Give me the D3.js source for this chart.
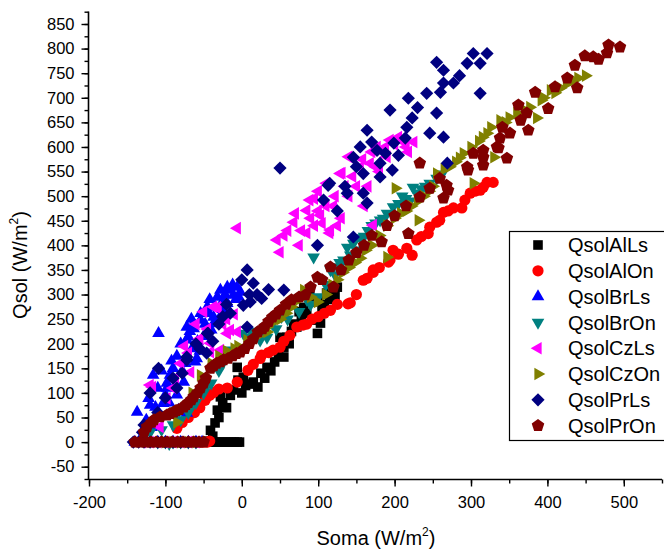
<!DOCTYPE html>
<html><head><meta charset="utf-8">
<script src="https://cdn.jsdelivr.net/npm/d3@7"></script>
<style>body{margin:0;background:#fff}svg{display:block}text{font-family:"Liberation Sans",Arial,sans-serif;fill:#000}</style>
</head><body><svg id="c" width="664" height="550"></svg>
<script>
const seriesNames = ["QsolAlLs","QsolAlOn","QsolBrLs","QsolBrOn","QsolCzLs","QsolCzOn","QsolPrLs","QsolPrOn"];
const seriesColors = ["#000000","#ff0000","#0000ff","#008080","#ff00ff","#808000","#000080","#800000"];
const seriesShapes = ["square","circle","up","down","left","right","diamond","pentagon"];
const xTicks = [-200,-100,0,100,200,300,400,500];
const yTicks = [-50,0,50,100,150,200,250,300,350,400,450,500,550,600,650,700,750,800,850];

const qsolAlLs = [[-46,2],[-42,0],[-38,0],[-34,0],[-30,0],[-26,0],[-22,0],[-18,0],[-14,0],[-10,0],[-6,0],[-3,0],
 [-41,24],[-35,39],[-38,12],[-32,65],[-30,50],[-28,92],[-25,80],[-20,70],[-15,95],[-11,106],[-5,126],[2,132],[-6,152],[0,100],[5,115],[10,118],[15,122],[21,112],[25,140],[30,130],[33,152],[38,145],[43,163],[55,173],[55,193],[50,213],[59,213],[65,225],[72,234],[78,250],[85,262],[81,274],[92,285],[94,248],[103,242],[99,221],[105,270],[89,303],[111,303],[115,290],[122,299],[125,315],[48,180],[62,200],[68,240],[75,265],[100,290],[108,280],[118,310]];
const qsolAlOn = [[-55,0],[-50,0],[-45,0],[-42,2],[-85,28],[-78,40],[-70,50],[-62,60],[-55,70],[-48,85],[-42,95],[-37,101],[-30,108],[-19,110],[-6,122],[8,146],[15,158],[26,177],[24,170],[35,182],[41,187],[50,193],[55,205],[63,217],[72,234],[80,238],[85,240],[92,250],[100,255],[108,262],[116,268],[125,280],[139,281],[142,283],[150,300],[159,329],[164,333],[172,345],[172,350],[180,355],[192,366],[198,390],[194,370],[205,382],[216,394],[223,380],[229,411],[235,418],[246,437],[244,424],[255,447],[259,451],[264,467],[270,470],[277,476],[288,476],[292,492],[299,506],[305,510],[312,512],[316,518],[321,528],[329,528]];
const qsolBrLs = [[-140,0],[-135,0],[-130,0],[-125,0],[-120,0],[-110,0],[-100,0],[-90,0],[-80,0],[-70,0],[-60,0],[-52,0],
 [-137,61],[-125,45],[-118,30],[-122,89],[-113,71],[-98,110],[-100,96],[-109,221],[-116,136],[-94,136],[-76,122],[-74,160],[-61,163],[-72,208],[-63,231],[-54,248],[-45,262],[-37,241],[-45,275],[-19,282],[-15,262],[-70,214],[-80,200],[-59,170],[-98,120],[-103,79],[-85,96],[-83,65],[-72,59],[-72,234],[-54,262],[-45,268],[-28,309],[-19,315],[-6,315],[-11,299],[-24,289],[-37,254],[-63,241],[-32,295],[-15,309],[-90,150],[-85,175],[-65,190],[-50,215],[-55,185],[-40,228],[-30,250],[-25,270],[-8,290],[-2,305],
 [-110,110],[-105,145],[-92,165],[-88,112],[-78,145],[-68,225],[-58,205],[-48,240],[-42,290],[-35,275],[-22,300],[-12,320],[-4,295],[-66,250],[-95,80],[-120,75]];
const qsolBrOn = [[-110,0],[-100,0],[-90,0],[-80,0],[-70,0],[-60,0],[-95,-3],
 [-120,20],[-105,25],[-90,35],[-80,45],[-70,60],[-60,80],[-50,100],[-40,120],[-30,145],[-19,187],[-10,180],[2,221],[7,213],[24,207],[33,213],[45,230],[60,250],[75,265],[90,280],[100,295],[110,320],[94,376],[120,356],[116,350],[122,340],[128,365],[133,370],[138,396],[146,404],[150,390],[155,415],[165,430],[175,445],[181,451],[185,455],[190,465],[198,478],[205,485],[215,495],[224,518],[229,506],[235,515],[240,520],[246,526],[255,536],[262,545],
 [-85,55],[-65,75],[-45,115],[-25,160],[12,225],[40,240],[52,255],[85,290],[142,380],[160,418],[170,440],[210,500],[220,490]];
const qsolCzLs = [[-130,0],[-120,0],[-110,0],[-100,0],[-90,0],[-80,0],[-70,0],[-60,0],
 [-120,116],[-117,112],[-87,130],[-98,89],[-67,142],[-28,187],[-37,275],[-19,221],[-6,224],[-31,272],[-107,31],[-70,181],[-41,183],[-41,201],[-15,228],[-32,274],[-6,435],[-80,160],[-55,210],[-60,240],[-50,265],[-25,240],[-10,260],
 [46,411],[50,386],[68,447],[85,425],[89,492],[103,461],[115,425],[85,471],[111,526],[129,546],[168,567],[177,600],[194,614],[131,547],[155,559],[172,441],[116,431],[95,440],[120,480],[140,500],[150,520],[160,480],[185,590],[200,605],[205,620],[140,580],[110,480],[130,455],[60,430],[75,400],[95,495],[180,550],[165,520],[190,580],[215,600],[225,610],
 [55,420],[70,465],[78,430],[100,510],[105,445],[122,500],[135,520],[145,540],[158,575],[170,590],[175,560],[188,600],[210,612],[218,590],[100,470],[90,455],[125,440],[-90,110],[-75,195],[-45,230],[-20,250]];
const qsolCzOn = [[-100,0],[-90,0],[-80,0],[-70,0],[-60,0],
 [-85,40],[-75,70],[-65,100],[-54,136],[-40,160],[-20,185],[-5,195],[7,201],[7,207],[20,215],[33,224],[33,234],[50,250],[65,275],[81,309],[99,285],[110,300],[125,330],[140,355],[155,374],[190,376],[170,400],[180,420],[190,440],[201,516],[200,455],[215,470],[231,451],[230,490],[245,510],[255,546],[265,555],[280,570],[290,587],[303,526],[300,600],[310,612],[321,628],[330,579],[338,654],[350,660],[360,669],[377,681],[386,659],[395,700],[404,715],[417,720],[434,736],[440,740],[450,745],
 [-30,175],[-10,190],[42,245],[58,262],[75,290],[90,295],[118,320],[132,345],[148,365],[162,390],[208,465],[222,480],[238,500],[250,520],[272,560],[285,578],[315,620],[326,640],[345,650],[370,675],[392,695],[410,710],[425,728]];
const qsolPrLs = [[-142,0],[-135,0],[-128,0],[-120,0],[-110,0],[-100,0],[-90,0],[-80,0],[-70,0],[-60,0],
 [-128,35],[-130,20],[-109,150],[-72,167],[-45,221],[-85,110],[7,234],[-72,173],[-46,181],[-44,221],[-15,262],[2,278],[11,285],[26,292],[55,309],[15,323],[7,350],[50,557],[99,400],[146,417],[107,492],[138,506],[113,522],[-100,90],[-90,130],[-60,200],[-30,240],[-20,280],[10,300],[0,330],[-110,60],[-120,100],
 [303,790],[321,790],[295,770],[312,770],[255,772],[264,756],[264,730],[277,730],[260,711],[312,709],[242,709],[218,699],[194,675],[255,669],[223,659],[216,640],[246,628],[264,620],[164,634],[214,618],[199,608],[155,600],[177,593],[188,587],[205,583],[146,579],[181,567],[197,553],[159,546],[181,539],[269,567],[115,526],[159,506],[164,486],
 [-78,140],[-55,190],[-38,205],[-25,255],[20,300],[35,310],[125,470],[135,520],[150,560],[170,610],[230,680],[285,745]];
const qsolPrOn = [[-140,0],[-133,0],[-126,0],[-119,0],[-112,0],[-105,0],[-98,0],[-91,0],[-84,0],[-77,0],[-70,0],[-63,0],[-56,0],[-50,0],
 [-128,20],[-124,31],[-115,45],[-107,51],[-98,55],[-89,61],[-82,66],[-76,71],[-70,80],[-63,92],[-58,100],[-54,110],[-47,130],[-41,150],[-33,160],[-24,167],[-12,175],[-2,183],[10,200],[21,224],[30,235],[40,254],[50,268],[65,289],[83,299],[99,335],[120,315],[116,356],[130,350],[140,370],[150,385],[160,400],[170,420],[183,407],[190,440],[200,460],[218,424],[215,480],[233,498],[246,516],[264,496],[268,522],[259,536],[233,567],[296,553],[270,512],[295,559],[303,587],[316,593],[316,563],[334,600],[347,577],[336,598],[316,579],[338,618],[351,628],[341,640],[375,634],[365,654],[373,669],[362,685],[401,678],[384,711],[410,722],[426,740],[439,720],[436,766],[449,785],[460,783],[467,778],[478,791],[480,807],[495,803],
 [-118,40],[-94,58],[-86,64],[-73,76],[-66,86],[-50,120],[-37,155],[-28,163],[-18,170],[-7,180],[4,190],[15,210],[27,230],[35,245],[45,260],[58,280],[75,295],[90,315],[105,330]];

const seriesData = [qsolAlLs,qsolAlOn,qsolBrLs,qsolBrOn,qsolCzLs,qsolCzOn,qsolPrLs,qsolPrOn];

const svg = d3.select("#c");
const x = d3.scaleLinear().domain([-200,550]).range([89,662]);
const y = d3.scaleLinear().domain([-75,875]).range([479,11.7]);

function shapePath(kind){
  const p = d3.path();
  const tri = (ang)=>{
    const r = 7.3;
    for(let i=0;i<3;i++){const a=ang+i*2*Math.PI/3; const px=r*Math.cos(a), py=r*Math.sin(a); i?p.lineTo(px,py):p.moveTo(px,py);}
    p.closePath();
  };
  switch(kind){
    case "square": p.rect(-4.8,-4.8,9.6,9.6); break;
    case "circle": p.arc(0,0,5.6,0,2*Math.PI); break;
    case "up": tri(-Math.PI/2); break;
    case "down": tri(Math.PI/2); break;
    case "left": tri(Math.PI); break;
    case "right": tri(0); break;
    case "diamond": p.moveTo(0,-6.6);p.lineTo(6.6,0);p.lineTo(0,6.6);p.lineTo(-6.6,0);p.closePath(); break;
    case "pentagon": {const r=6.6; for(let i=0;i<5;i++){const a=-Math.PI/2+i*2*Math.PI/5; i?p.lineTo(r*Math.cos(a),r*Math.sin(a)):p.moveTo(r*Math.cos(a),r*Math.sin(a));} p.closePath(); break;}
  }
  return p.toString();
}

seriesData.forEach((data,i)=>{
  svg.append("g").selectAll("path").data(data).join("path")
    .attr("d", shapePath(seriesShapes[i]))
    .attr("transform", d=>`translate(${x(d[0])},${y(d[1])})`)
    .attr("fill", seriesColors[i]);
});

const axisFont = "16.5px";
const fmt = d => String(d);
const xMinor = d3.range(-200,551,50);
const yMinor = d3.range(-75,876,25);
const gx = svg.append("g").attr("transform","translate(0,479.5)");
gx.call(d3.axisBottom(x).tickValues(xMinor).tickSize(4).tickFormat(""));
gx.call(g=>g.select(".domain").remove());
const gx2 = svg.append("g").attr("transform","translate(0,479.5)");
gx2.call(d3.axisBottom(x).tickValues(xTicks).tickSize(7).tickPadding(6).tickFormat(fmt));
gx2.select(".domain").attr("d","M89,0H662").attr("stroke-width",1.6);
gx.selectAll("line").attr("stroke-width",1.4);
gx2.selectAll("line").attr("stroke-width",1.4);
gx2.selectAll("text").attr("font-size",axisFont).attr("font-family","Liberation Sans, Arial, sans-serif").attr("dy","0.95em");

const gy = svg.append("g").attr("transform","translate(88.5,0)");
gy.call(d3.axisLeft(y).tickValues(yMinor).tickSize(4).tickFormat(""));
gy.call(g=>g.select(".domain").remove());
const gy2 = svg.append("g").attr("transform","translate(88.5,0)");
gy2.call(d3.axisLeft(y).tickValues(yTicks).tickSize(7).tickPadding(7).tickFormat(fmt));
gy2.select(".domain").attr("d","M0,11.5V480").attr("stroke-width",1.6);
gy.selectAll("line").attr("stroke-width",1.4);
gy2.selectAll("line").attr("stroke-width",1.4);
gy2.selectAll("text").attr("font-size",axisFont).attr("font-family","Liberation Sans, Arial, sans-serif");

const xt = svg.append("text").attr("x",376).attr("y",545).attr("text-anchor","middle").attr("font-size","20px");
xt.append("tspan").text("Soma (W/m");
xt.append("tspan").text("2").attr("font-size","12px").attr("dy","-9");
xt.append("tspan").text(")").attr("dy","9");

const yt = svg.append("text").attr("transform","translate(27,265) rotate(-90)").attr("text-anchor","middle").attr("font-size","20px");
yt.append("tspan").text("Qsol (W/m");
yt.append("tspan").text("2").attr("font-size","12px").attr("dy","-9");
yt.append("tspan").text(")").attr("dy","9");

const lg = svg.append("g");
lg.append("rect").attr("x",509.5).attr("y",231.5).attr("width",170).attr("height",209).attr("fill","#fff").attr("stroke","#000").attr("stroke-width",1.2);
seriesNames.forEach((n,i)=>{
  const cy = 245 + i*25.8;
  lg.append("path").attr("d",shapePath(seriesShapes[i])).attr("transform",`translate(538,${cy})`).attr("fill",seriesColors[i]);
  lg.append("text").attr("x",568).attr("y",cy).attr("dy","0.36em").attr("font-size","20px").text(n);
});
</script></body></html>
